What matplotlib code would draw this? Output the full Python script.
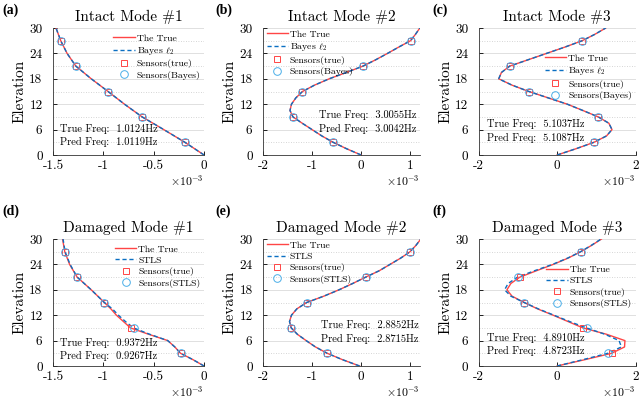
import numpy as np
import matplotlib
matplotlib.use('Agg')
import matplotlib.pyplot as plt
from matplotlib.ticker import FuncFormatter, MultipleLocator
from matplotlib.lines import Line2D

plt.rcParams['font.family'] = ['cmr10', 'DejaVu Serif']
plt.rcParams['mathtext.fontset'] = 'cm'
plt.rcParams['axes.unicode_minus'] = False

# sensor elevations (shared)
sens_elev = [3, 9, 15, 21, 27]

# (a) intact mode 1, x in units of 1e-3
elev_a = [0, 3, 6, 9, 12, 15, 18, 21, 24, 27, 30]
true_a = [0, -0.19, -0.40, -0.615, -0.79, -0.953, -1.12, -1.273, -1.36, -1.423, -1.47]
pred_a = [0, -0.19, -0.40, -0.615, -0.79, -0.953, -1.12, -1.273, -1.36, -1.423, -1.47]
sens_true_a = [-0.19, -0.615, -0.953, -1.273, -1.423]
sens_pred_a = [-0.19, -0.615, -0.953, -1.273, -1.423]

# (b) intact mode 2
elev_b = [0, 1.5, 3, 4.5, 6, 7.5, 9, 10.5, 12, 13.5, 15, 16.5, 18, 19.5, 21, 22.5, 24, 25.5, 27, 28.5, 30]
true_b = [0, -0.30, -0.57, -0.80, -1.00, -1.20, -1.39, -1.45, -1.42, -1.33, -1.195, -0.95, -0.65, -0.30,
          0.04, 0.30, 0.54, 0.77, 1.01, 1.11, 1.20]
pred_b = [0, -0.30, -0.57, -0.80, -1.00, -1.20, -1.39, -1.45, -1.42, -1.33, -1.195, -0.95, -0.65, -0.30,
          0.04, 0.30, 0.54, 0.77, 1.01, 1.11, 1.20]
sens_true_b = [-0.57, -1.39, -1.195, 0.04, 1.01]
sens_pred_b = [-0.57, -1.39, -1.195, 0.04, 1.01]

# (c) intact mode 3
elev_c = elev_b
true_c = [0, 0.49, 0.94, 1.26, 1.40, 1.32, 1.05, 0.66, 0.26, -0.23, -0.72, -1.15, -1.49, -1.42,
          -1.21, -0.74, -0.27, 0.20, 0.64, 0.96, 1.24]
pred_c = [0, 0.49, 0.94, 1.26, 1.40, 1.32, 1.05, 0.66, 0.26, -0.23, -0.72, -1.15, -1.49, -1.42,
          -1.21, -0.74, -0.27, 0.20, 0.64, 0.96, 1.24]
sens_true_c = [0.94, 1.05, -0.72, -1.21, 0.64]
sens_pred_c = [0.94, 1.05, -0.72, -1.21, 0.64]

# (d) damaged mode 1
elev_d = [0, 1.5, 3, 4.5, 6, 7.5, 9, 10.5, 12, 13.5, 15, 18, 21, 24, 27, 30]
true_d = [0, -0.11, -0.233, -0.29, -0.36, -0.55, -0.73, -0.80, -0.87, -0.925, -0.99, -1.12, -1.26,
          -1.335, -1.383, -1.405]
pred_d = [0, -0.11, -0.233, -0.29, -0.36, -0.54, -0.70, -0.78, -0.85, -0.91, -0.99, -1.12, -1.26,
          -1.33, -1.38, -1.40]
sens_true_d = [-0.233, -0.73, -0.99, -1.26, -1.383]
sens_pred_d = [-0.233, -0.70, -0.99, -1.26, -1.38]

# (e) damaged mode 2
elev_e = elev_b
true_e = [-0.03, -0.38, -0.69, -0.93, -1.12, -1.30, -1.425, -1.46, -1.42, -1.31, -1.11, -0.76, -0.45,
          -0.17, 0.095, 0.37, 0.59, 0.81, 1.00, 1.12, 1.22]
pred_e = [-0.03, -0.38, -0.69, -0.93, -1.12, -1.30, -1.425, -1.46, -1.42, -1.31, -1.11, -0.76, -0.45,
          -0.17, 0.095, 0.37, 0.59, 0.81, 1.00, 1.12, 1.22]
sens_true_e = [-0.69, -1.425, -1.11, 0.095, 1.00]
sens_pred_e = [-0.69, -1.425, -1.11, 0.095, 1.00]

# (f) damaged mode 3
elev_f = elev_b
true_f = [0, 0.71, 1.39, 1.72, 1.73, 1.26, 0.66, 0.28, -0.10, -0.50, -0.84, -1.15, -1.28, -1.18,
          -0.95, -0.53, -0.10, 0.28, 0.60, 0.88, 1.13]
pred_f = [0, 0.66, 1.29, 1.64, 1.58, 1.22, 0.75, 0.32, -0.08, -0.48, -0.84, -1.18, -1.34, -1.25,
          -1.01, -0.58, -0.12, 0.27, 0.60, 0.87, 1.12]
sens_true_f = [1.39, 0.66, -0.84, -0.95, 0.60]
sens_pred_f = [1.29, 0.75, -0.84, -1.01, 0.60]

titles = ['Intact Mode #1', 'Intact Mode #2', 'Intact Mode #3',
          'Damaged Mode #1', 'Damaged Mode #2', 'Damaged Mode #3']
freq_true = ['1.0124', '3.0055', '5.1037', '0.9372', '2.8852', '4.8910']
freq_pred = ['1.0119', '3.0042', '5.1087', '0.9267', '2.8715', '4.8723']
panel_tags = ['(a)', '(b)', '(c)', '(d)', '(e)', '(f)']

RED = '#ff4545'
BLUE = '#0a6fc2'
LBLUE = '#4aaee8'

fig = plt.figure(figsize=(6.4, 3.98), dpi=100)

col_x = [(0.0828, 0.236), (0.411, 0.245), (0.748, 0.245)]
row_y = [0.6106, 0.0804]
H = 0.319


def draw_panel(ax, elev, tr, pr, st, sp, method, title, ft, fp, xlim, xticks, leg_loc, leg_anchor, txt_xy):
    ax.plot(tr, elev, '-', color=RED, lw=1.0, zorder=3)
    ax.plot(pr, elev, '--', color=BLUE, lw=1.0, dashes=(3, 2), zorder=4)
    ax.plot(st, sens_elev, 's', mfc='none', mec=RED, ms=4, mew=0.7, zorder=5)
    ax.plot(sp, sens_elev, 'o', mfc='none', mec=LBLUE, ms=5.5, mew=0.7, zorder=5)

    ax.set_xlim(xlim)
    ax.set_ylim(0, 30)
    ax.set_xticks(xticks)
    ax.yaxis.set_major_locator(MultipleLocator(6))
    ax.yaxis.set_minor_locator(MultipleLocator(3))
    ax.xaxis.set_major_formatter(FuncFormatter(lambda v, p: '%g' % v))
    ax.tick_params(direction='in', length=3, width=0.6, labelsize=9.5)
    ax.tick_params(axis='x', pad=3.5)
    ax.tick_params(axis='y', pad=7.5)
    ax.tick_params(which='minor', length=0)
    ax.grid(axis='y', which='major', color='#dadada', lw=0.6)
    ax.grid(axis='y', which='minor', color='#c8c8c8', lw=0.6, ls=(0, (1, 2)))
    ax.set_axisbelow(True)
    for s in ['top', 'right']:
        ax.spines[s].set_visible(False)
    for s in ['left', 'bottom']:
        ax.spines[s].set_linewidth(0.6)
        ax.spines[s].set_color('#333333')

    ax.set_title(title, fontsize=11, pad=5)
    ax.set_ylabel('Elevation', fontsize=11, labelpad=2)
    ax.text(1.0, -0.205, r'$\times 10^{-3}$', transform=ax.transAxes, ha='right', va='center', fontsize=8.5)

    ax.text(txt_xy[0], txt_xy[1], 'True Freq:  %sHz\nPred Freq:  %sHz' % (ft, fp),
            transform=ax.transAxes, ha='left', va='center', fontsize=7.5, linespacing=1.45)

    handles = [Line2D([], [], color=RED, lw=1.0),
               Line2D([], [], color=BLUE, lw=1.0, ls='--', dashes=(3, 2)),
               Line2D([], [], ls='none', marker='s', mfc='none', mec=RED, ms=4, mew=0.7),
               Line2D([], [], ls='none', marker='o', mfc='none', mec=LBLUE, ms=5.5, mew=0.7)]
    labels = ['The True', method, 'Sensors(true)', 'Sensors(%s)' % method.split(' ')[0]]
    ax.legend(handles, labels, loc=leg_loc, bbox_to_anchor=leg_anchor, frameon=False, fontsize=7,
              handlelength=2.2, handletextpad=0.2, labelspacing=0.25, borderpad=0.2, borderaxespad=0)


panels = [
    (elev_a, true_a, pred_a, sens_true_a, sens_pred_a, r'Bayes $\ell_2$', (-1.5, 0), [-1.5, -1, -0.5, 0],
     'upper right', (0.99, 0.97), (0.045, 0.155)),
    (elev_b, true_b, pred_b, sens_true_b, sens_pred_b, r'Bayes $\ell_2$', (-2, 1.2), [-2, -1, 0, 1],
     'upper left', (0.01, 1.0), (0.36, 0.26)),
    (elev_c, true_c, pred_c, sens_true_c, sens_pred_c, r'Bayes $\ell_2$', (-2, 2), [-2, 0, 2],
     'upper right', (0.99, 0.81), (0.05, 0.19)),
    (elev_d, true_d, pred_d, sens_true_d, sens_pred_d, 'STLS', (-1.5, 0), [-1.5, -1, -0.5, 0],
     'upper right', (0.99, 0.97), (0.045, 0.13)),
    (elev_e, true_e, pred_e, sens_true_e, sens_pred_e, 'STLS', (-2, 1.2), [-2, -1, 0, 1],
     'upper left', (0.01, 1.0), (0.37, 0.268)),
    (elev_f, true_f, pred_f, sens_true_f, sens_pred_f, 'STLS', (-2, 2), [-2, 0, 2],
     'upper right', (0.99, 0.81), (0.055, 0.17)),
]

tag_xy = [(0.003, 0.975), (0.336, 0.975), (0.675, 0.975),
          (0.003, 0.47), (0.336, 0.47), (0.675, 0.47)]

for i, p in enumerate(panels):
    r, c = divmod(i, 3)
    x0, w = col_x[c]
    ax = fig.add_axes([x0, row_y[r], w, H])
    elev, tr, pr, st, sp, method, xlim, xticks, lloc, lanc, txy = p
    draw_panel(ax, elev, tr, pr, st, sp, method, titles[i], freq_true[i], freq_pred[i],
               xlim, xticks, lloc, lanc, txy)
    fig.text(tag_xy[i][0], tag_xy[i][1], panel_tags[i], fontsize=10, fontweight='bold',
             family='Liberation Serif', ha='left', va='center')

fig.savefig('out.png', dpi=100)
